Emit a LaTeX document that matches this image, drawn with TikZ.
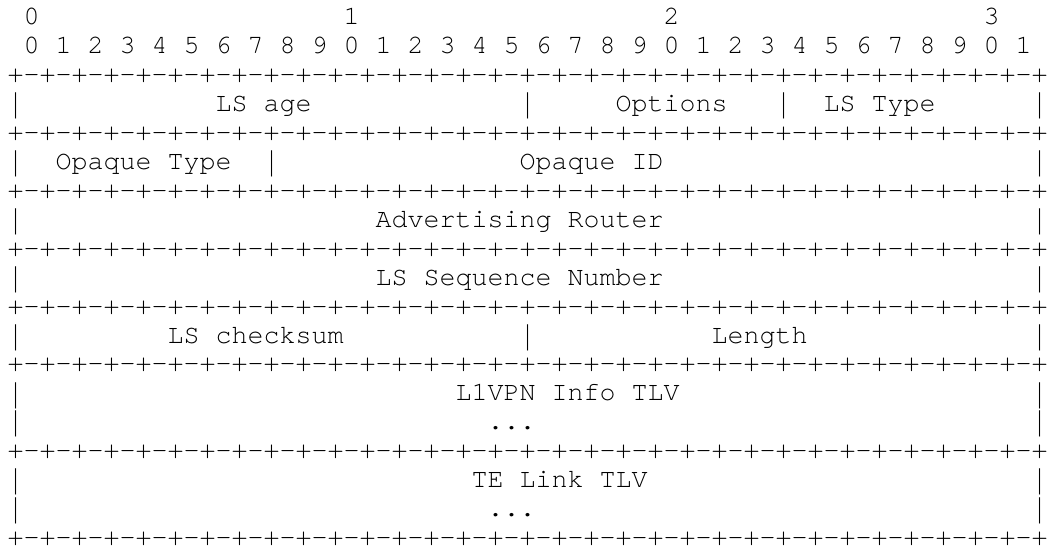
\documentclass[tikz,border=0pt]{standalone}
\usepackage{fontspec}
\newfontfamily\asciifont{TeX Gyre Cursor}
\newcommand{\wallbar}{\raisebox{-0.12em}{\scalebox{1}[1.35]{|}}}

\begin{document}
\begin{tikzpicture}[
                        x=6pt,
                        y=-10.845pt,
                        ascii/.style={
                            anchor=base west,
                            inner sep=0pt,
                            font=\asciifont\fontsize{10}{11}\selectfont
                        }]

                        \useasboundingbox (-0.4375,-0.861) rectangle (65.125,18.295);

                        % bit ruler
                        \foreach \d [count=\i from 0] in {0,1,2,3}
                            \node (tens_\d) [ascii] at (1+20*\i,0) {\d};
                        \foreach \b in {0,...,31} {
                            \pgfmathtruncatemacro\u{mod(\b,10)}
                            \node (bit_\b) [ascii] at (1+2*\b,1) {\u};
                        }

                        % separator rows
                        \foreach \r in {2,4,6,8,10,12,15,18}
                            \node (border_\r) [ascii] at (0,\r) {+-+-+-+-+-+-+-+-+-+-+-+-+-+-+-+-+-+-+-+-+-+-+-+-+-+-+-+-+-+-+-+-+};

                        % outer walls
                        \foreach \r in {3,5,7,9,11,13,14,16,17} {
                            \node (wall_left_\r) [ascii] at (0,\r) {\wallbar};
                            \node (wall_right_\r) [ascii] at (64,\r) {\wallbar};
                        }

                        % inner walls
                        \node (wall_age) [ascii] at (32,3) {\wallbar};
                        \node (wall_options) [ascii] at (48,3) {\wallbar};
                        \node (wall_opaque) [ascii] at (16,5) {\wallbar};
                        \node (wall_checksum) [ascii] at (32,11) {\wallbar};

                        % fields
                        \node (ls_age) [ascii] at (13,3) {LS age};
                        \node (options) [ascii] at (38,3) {Options};
                        \node (ls_type) [ascii] at (51,3) {LS Type};
                        \node (opaque_type) [ascii] at (3,5) {Opaque Type};
                        \node (opaque_id) [ascii] at (32,5) {Opaque ID};
                        \node (adv_router) [ascii] at (23,7) {Advertising Router};
                        \node (ls_seq) [ascii] at (23,9) {LS Sequence Number};
                        \node (ls_checksum) [ascii] at (10,11) {LS checksum};
                        \node (length) [ascii] at (44,11) {Length};
                        \node (l1vpn_tlv) [ascii] at (28,13) {L1VPN Info TLV};
                        \node (l1vpn_more) [ascii] at (30,14) {...};
                        \node (te_link_tlv) [ascii] at (29,16) {TE Link TLV};
                        \node (te_link_more) [ascii] at (30,17) {...};

                    \end{tikzpicture}
\end{document}
